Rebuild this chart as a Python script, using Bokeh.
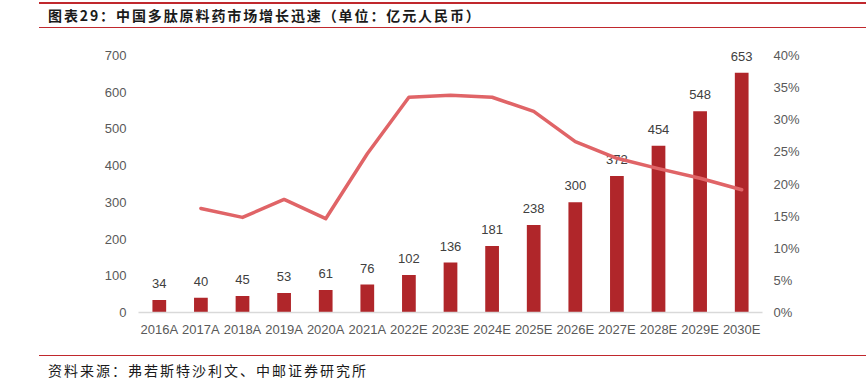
from bokeh.plotting import figure
from bokeh.models import (Range1d, LinearAxis, ColumnDataSource, Div,
                          FixedTicker, NumeralTickFormatter)
from bokeh.layouts import column
from bokeh.core.properties import value
from bokeh.embed import file_html
from bokeh.resources import INLINE

years = ["2016A", "2017A", "2018A", "2019A", "2020A", "2021A", "2022E", "2023E",
         "2024E", "2025E", "2026E", "2027E", "2028E", "2029E", "2030E"]
market = [34, 40, 45, 53, 61, 76, 102, 136, 181, 238, 300, 372, 454, 548, 653]
growth_years = years[1:]
growth = [0.162, 0.148, 0.176, 0.146, 0.247, 0.335, 0.338, 0.335, 0.313, 0.266,
          0.240, 0.224, 0.209, 0.191]
left_ticks = [0, 100, 200, 300, 400, 500, 600, 700]
right_ticks = [0, 0.05, 0.10, 0.15, 0.20, 0.25, 0.30, 0.35, 0.40]

title_text = "图表29：中国多肽原料药市场增长迅速（单位：亿元人民币）"
source_text = "资料来源：弗若斯特沙利文、中邮证券研究所"

FONT = "Liberation Sans"
CJK = "Noto Sans CJK SC"
BAR = "#B0262A"
LINE = "#E06467"
RED = "#C0282D"

# axis 0..700 spans 257 px; the frame is extended 15 px upward for the top label
LEFT_MAX = 700 * 272 / 257
RIGHT_MAX = 0.4 * 272 / 257

title_div = Div(text=title_text, width=827, height=26, margin=(2, 0, 0, 39),
                styles={"box-sizing": "border-box", "border-top": f"2px solid {RED}",
                        "border-bottom": f"1px solid {RED}", "padding-left": "9px",
                        "font-family": CJK, "font-size": "14px", "font-weight": "bold",
                        "letter-spacing": "1.9px",
                        "line-height": "23px", "color": "#1a1a1a",
                        "white-space": "nowrap", "width": "827px", "height": "26px"})

p = figure(x_range=years, y_range=Range1d(0, LEFT_MAX), width=866, height=320,
           output_backend="svg", toolbar_location=None,
           min_border_left=138, min_border_right=104, min_border_top=12,
           min_border_bottom=36, margin=(0, 0, 0, 0))
p.outline_line_color = None
p.xgrid.grid_line_color = None
p.ygrid.grid_line_color = None

bars = ColumnDataSource(dict(x=years, y=market, lab=[str(v) for v in market]))
p.vbar(x="x", top="y", width=0.33, source=bars, fill_color=BAR, line_color=None)
p.text(x="x", y="y", text="lab", source=bars, text_align="center",
       text_baseline="bottom", y_offset=-12, text_color="#404040",
       text_font=value(FONT), text_font_size="13px")

p.extra_y_ranges = {"pct": Range1d(0, RIGHT_MAX)}
gsrc = ColumnDataSource(dict(x=growth_years, y=growth))
p.line(x="x", y="y", source=gsrc, y_range_name="pct", line_color=LINE,
       line_width=3.5, line_join="round", line_cap="round")

ya = p.yaxis[0]
ya.ticker = FixedTicker(ticks=left_ticks)
ya.axis_line_color = None
ya.major_tick_line_color = None
ya.major_tick_out = 0
ya.minor_tick_line_color = None
ya.major_label_standoff = 12
ya.major_label_text_font = FONT
ya.major_label_text_font_size = "13px"
ya.major_label_text_color = "#595959"

ra = LinearAxis(y_range_name="pct", ticker=FixedTicker(ticks=right_ticks),
                formatter=NumeralTickFormatter(format="0%"))
ra.axis_line_color = None
ra.major_tick_line_color = None
ra.major_tick_out = 0
ra.minor_tick_line_color = None
ra.major_label_standoff = 11
ra.major_label_text_font = FONT
ra.major_label_text_font_size = "13px"
ra.major_label_text_color = "#595959"
p.add_layout(ra, "right")

xa = p.xaxis[0]
xa.axis_line_color = "#D9D9D9"
xa.axis_line_width = 1.5
xa.major_tick_line_color = None
xa.major_tick_out = 0
xa.minor_tick_line_color = None
xa.major_label_standoff = 9
xa.major_label_text_font = FONT
xa.major_label_text_font_size = "13px"
xa.major_label_text_color = "#595959"

source_div = Div(text=source_text, width=827, height=27, margin=(7, 0, 0, 39),
                 styles={"box-sizing": "border-box", "border-top": f"1px solid {RED}",
                         "padding-left": "9px", "padding-top": "4px",
                         "font-family": CJK, "font-size": "14px", "line-height": "20px",
                         "letter-spacing": "2px",
                         "color": "#1a1a1a", "white-space": "nowrap",
                         "width": "827px", "height": "27px"})

layout = column(title_div, p, source_div, spacing=0)
open("out.html", "w").write(file_html(layout, INLINE))
